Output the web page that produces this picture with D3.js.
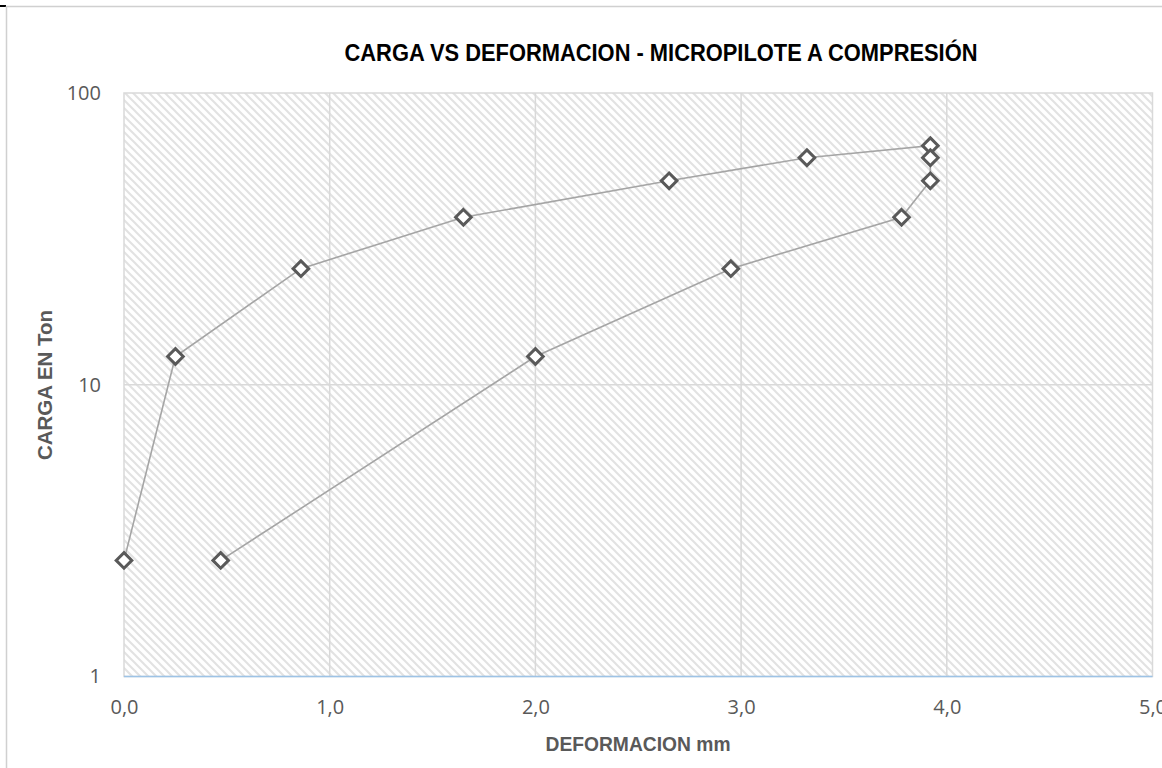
<!DOCTYPE html>
<html><head><meta charset="utf-8">
<script src="https://cdn.jsdelivr.net/npm/d3@7/dist/d3.min.js"></script>
<style>body{margin:0;background:#fff}svg{display:block}</style>
</head><body>
<svg id="c" width="1162" height="768"></svg>
<script>
const title = "CARGA VS DEFORMACION - MICROPILOTE A COMPRESIÓN";
const xTitle = "DEFORMACION mm";
const yTitle = "CARGA EN Ton";
const deformacion = [0, 0.25, 0.86, 1.65, 2.65, 3.32, 3.92, 3.92, 3.92, 3.78, 2.95, 2.0, 0.47];
const carga = [2.5, 12.5, 25, 37.5, 50, 60, 66, 60, 50, 37.5, 25, 12.5, 2.5];
const xTicks = [0, 1, 2, 3, 4, 5];
const yTicks = [1, 10, 100];

const svg = d3.select("#c");
const m = {left:124, top:93, right:1152.5, bottom:676.5};
const x = d3.scaleLinear().domain([0,5]).range([m.left, m.right]);
const y = d3.scaleLog().domain([1,100]).range([m.bottom, m.top]);

// outer frame
svg.append("line").attr("x1",0).attr("x2",6).attr("y1",6).attr("y2",6).attr("stroke","#000").attr("stroke-width",2);
svg.append("line").attr("x1",6).attr("x2",1162).attr("y1",6.5).attr("y2",6.5).attr("stroke","#d0d0d0").attr("stroke-width",1.5);
svg.append("line").attr("x1",6.5).attr("x2",6.5).attr("y1",6).attr("y2",768).attr("stroke","#d0d0d0").attr("stroke-width",1.5);

const defs = svg.append("defs");
const pat = defs.append("pattern").attr("id","hatch").attr("patternUnits","userSpaceOnUse")
  .attr("width",8).attr("height",8);
pat.append("rect").attr("width",8).attr("height",8).attr("fill","#fff");
pat.append("path").attr("d","M-2,-2 L10,10 M-2,6 L2,10 M6,-2 L10,2")
  .attr("stroke","#e2e2e2").attr("stroke-width",2);

svg.append("rect").attr("x",m.left).attr("y",m.top).attr("width",m.right-m.left).attr("height",m.bottom-m.top)
  .attr("fill","url(#hatch)").attr("stroke","#d9d9d9").attr("stroke-width",1.5);

// gridlines
const g = svg.append("g");
g.selectAll(".vx").data(xTicks.slice(1,-1)).join("line")
  .attr("x1",d=>x(d)).attr("x2",d=>x(d)).attr("y1",m.top).attr("y2",m.bottom)
  .attr("stroke","#d9d9d9").attr("stroke-width",1.5);
g.selectAll(".hy").data([10]).join("line")
  .attr("x1",m.left).attr("x2",m.right).attr("y1",d=>y(d)).attr("y2",d=>y(d))
  .attr("stroke","#d9d9d9").attr("stroke-width",1.5);
// bottom axis line
svg.append("line").attr("x1",m.left).attr("x2",m.right).attr("y1",m.bottom).attr("y2",m.bottom)
  .attr("stroke","#9dc3e6").attr("stroke-width",1.5);

// axes labels via d3 axes
const fmt = d=>d3.format(".1f")(d).replace(".",",");
const xa = svg.append("g").attr("transform",`translate(0,${m.bottom})`)
  .call(d3.axisBottom(x).tickValues(xTicks).tickFormat(fmt).tickSize(0).tickPadding(23));
const ya = svg.append("g").attr("transform",`translate(${m.left},0)`)
  .call(d3.axisLeft(y).tickValues(yTicks).tickFormat(d3.format("d")).tickSize(0).tickPadding(23));
[xa,ya].forEach(a=>{
  a.select(".domain").remove();
  a.attr("font-size",null).attr("font-family",null);
  a.selectAll("text").style("font-family","'Open Sans', sans-serif").style("font-size","20px").attr("fill","#595959");
});

// line + markers
const pts = deformacion.map((d,i)=>[d,carga[i]]);
svg.append("path").datum(pts)
  .attr("d",d3.line().x(d=>x(d[0])).y(d=>y(d[1])))
  .attr("fill","none").attr("stroke","#a5a5a5").attr("stroke-width",1.6);
const s = 7.8;
svg.selectAll(".mk").data(pts).join("path")
  .attr("d",d=>{const cx=x(d[0]), cy=y(d[1]); return `M${cx},${cy-s}L${cx+s},${cy}L${cx},${cy+s}L${cx-s},${cy}Z`;})
  .attr("fill","#fff").attr("stroke","#595959").attr("stroke-width",3);

// titles
const tf = "'Liberation Sans Narrow', 'Arial Narrow', 'Liberation Sans', sans-serif";
svg.append("text").attr("x",661).attr("y",61).attr("text-anchor","middle")
  .style("font-family",tf).style("font-weight","bold").style("font-size","23px")
  .attr("textLength",633).attr("lengthAdjust","spacingAndGlyphs")
  .attr("fill","#000").text(title);
svg.append("text").attr("x",638).attr("y",751).attr("text-anchor","middle")
  .style("font-family",tf).style("font-weight","bold").style("font-size","20px")
  .attr("textLength",185).attr("lengthAdjust","spacingAndGlyphs")
  .attr("fill","#595959").text(xTitle);
svg.append("text").attr("transform","translate(52,385) rotate(-90)").attr("text-anchor","middle")
  .style("font-family",tf).style("font-weight","bold").style("font-size","20px")
  .attr("textLength",150).attr("lengthAdjust","spacingAndGlyphs")
  .attr("fill","#595959").text(yTitle);
</script>
</body></html>
